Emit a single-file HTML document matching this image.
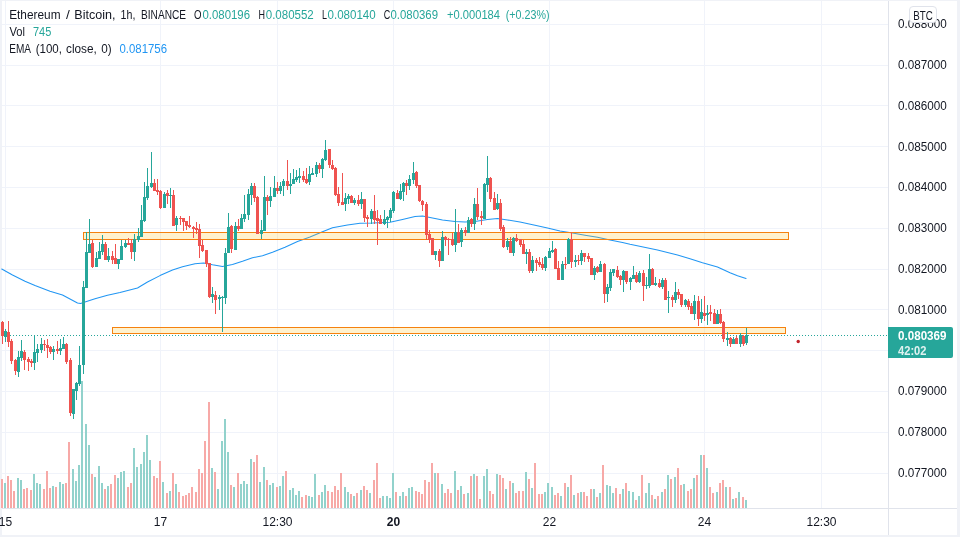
<!DOCTYPE html>
<html lang="en"><head><meta charset="utf-8"><title>ETHBTC chart</title>
<style>html,body{margin:0;padding:0;background:#fff;overflow:hidden}svg{display:block;will-change:transform}text{font-family:"Liberation Sans",Arial,sans-serif;font-size:12px;fill:#131722}.g{fill:#26a69a}.r{fill:#ef5350}.vg{fill:#92d2cc}.vr{fill:#f7a9a7}.gr{fill:#f0f3fa}.ax{fill:#e0e3eb}</style></head><body>
<svg width="960" height="537" viewBox="0 0 960 537">
<rect width="960" height="537" fill="#fff"/>
<rect x="0" y="0" width="2" height="537" fill="#f0f2f7" shape-rendering="crispEdges"/>
<g class="gr" shape-rendering="crispEdges">
<rect x="2" y="24" width="886" height="1"/>
<rect x="2" y="65" width="886" height="1"/>
<rect x="2" y="105" width="886" height="1"/>
<rect x="2" y="146" width="886" height="1"/>
<rect x="2" y="187" width="886" height="1"/>
<rect x="2" y="228" width="886" height="1"/>
<rect x="2" y="269" width="886" height="1"/>
<rect x="2" y="309" width="886" height="1"/>
<rect x="2" y="350" width="886" height="1"/>
<rect x="2" y="391" width="886" height="1"/>
<rect x="2" y="432" width="886" height="1"/>
<rect x="2" y="473" width="886" height="1"/>
<rect x="5" y="1" width="1" height="507"/>
<rect x="160" y="1" width="1" height="507"/>
<rect x="277" y="1" width="1" height="507"/>
<rect x="393" y="1" width="1" height="507"/>
<rect x="549" y="1" width="1" height="507"/>
<rect x="704" y="1" width="1" height="507"/>
<rect x="821" y="1" width="1" height="507"/>
</g>
<g shape-rendering="crispEdges">
<rect class="vr" x="1" y="479" width="2" height="29"/>
<rect class="vg" x="4" y="483" width="2" height="25"/>
<rect class="vr" x="7" y="476" width="2" height="32"/>
<rect class="vr" x="10" y="480" width="2" height="28"/>
<rect class="vr" x="13" y="491" width="2" height="17"/>
<rect class="vg" x="17" y="478" width="2" height="30"/>
<rect class="vg" x="20" y="480" width="2" height="28"/>
<rect class="vr" x="23" y="489" width="2" height="19"/>
<rect class="vr" x="26" y="488" width="2" height="20"/>
<rect class="vr" x="30" y="490" width="2" height="18"/>
<rect class="vg" x="33" y="474" width="2" height="34"/>
<rect class="vg" x="36" y="483" width="2" height="25"/>
<rect class="vg" x="39" y="484" width="2" height="24"/>
<rect class="vr" x="43" y="489" width="2" height="19"/>
<rect class="vr" x="46" y="471" width="2" height="37"/>
<rect class="vr" x="49" y="488" width="2" height="20"/>
<rect class="vg" x="52" y="486" width="2" height="22"/>
<rect class="vr" x="55" y="487" width="2" height="21"/>
<rect class="vg" x="59" y="482" width="2" height="26"/>
<rect class="vg" x="62" y="484" width="2" height="24"/>
<rect class="vr" x="65" y="483" width="2" height="25"/>
<rect class="vr" x="68" y="442" width="2" height="66"/>
<rect class="vg" x="72" y="469" width="2" height="39"/>
<rect class="vg" x="75" y="481" width="2" height="27"/>
<rect class="vg" x="78" y="465" width="2" height="43"/>
<rect class="vg" x="81" y="381" width="2" height="127"/>
<rect class="vg" x="85" y="424" width="2" height="84"/>
<rect class="vg" x="88" y="445" width="2" height="63"/>
<rect class="vr" x="91" y="474" width="2" height="34"/>
<rect class="vg" x="94" y="477" width="2" height="31"/>
<rect class="vg" x="98" y="466" width="2" height="42"/>
<rect class="vg" x="101" y="483" width="2" height="25"/>
<rect class="vr" x="104" y="489" width="2" height="19"/>
<rect class="vg" x="107" y="486" width="2" height="22"/>
<rect class="vr" x="110" y="484" width="2" height="24"/>
<rect class="vr" x="114" y="475" width="2" height="33"/>
<rect class="vg" x="117" y="478" width="2" height="30"/>
<rect class="vg" x="120" y="472" width="2" height="36"/>
<rect class="vg" x="123" y="471" width="2" height="37"/>
<rect class="vr" x="127" y="487" width="2" height="21"/>
<rect class="vr" x="130" y="483" width="2" height="25"/>
<rect class="vg" x="133" y="448" width="2" height="60"/>
<rect class="vg" x="136" y="467" width="2" height="41"/>
<rect class="vg" x="140" y="464" width="2" height="44"/>
<rect class="vg" x="143" y="452" width="2" height="56"/>
<rect class="vg" x="146" y="435" width="2" height="73"/>
<rect class="vg" x="149" y="460" width="2" height="48"/>
<rect class="vr" x="153" y="476" width="2" height="32"/>
<rect class="vr" x="156" y="478" width="2" height="30"/>
<rect class="vr" x="159" y="461" width="2" height="47"/>
<rect class="vg" x="162" y="482" width="2" height="26"/>
<rect class="vr" x="166" y="493" width="2" height="15"/>
<rect class="vg" x="169" y="491" width="2" height="17"/>
<rect class="vr" x="172" y="473" width="2" height="35"/>
<rect class="vg" x="175" y="484" width="2" height="24"/>
<rect class="vr" x="178" y="492" width="2" height="16"/>
<rect class="vr" x="182" y="496" width="2" height="12"/>
<rect class="vr" x="185" y="495" width="2" height="13"/>
<rect class="vr" x="188" y="493" width="2" height="15"/>
<rect class="vr" x="191" y="487" width="2" height="21"/>
<rect class="vr" x="195" y="492" width="2" height="16"/>
<rect class="vr" x="198" y="469" width="2" height="39"/>
<rect class="vr" x="201" y="473" width="2" height="35"/>
<rect class="vr" x="204" y="441" width="2" height="67"/>
<rect class="vr" x="208" y="402" width="2" height="106"/>
<rect class="vg" x="211" y="468" width="2" height="40"/>
<rect class="vr" x="214" y="472" width="2" height="36"/>
<rect class="vg" x="217" y="489" width="2" height="19"/>
<rect class="vg" x="221" y="441" width="2" height="67"/>
<rect class="vg" x="224" y="419" width="2" height="89"/>
<rect class="vg" x="227" y="452" width="2" height="56"/>
<rect class="vr" x="230" y="485" width="2" height="23"/>
<rect class="vg" x="233" y="487" width="2" height="21"/>
<rect class="vr" x="237" y="473" width="2" height="35"/>
<rect class="vg" x="240" y="484" width="2" height="24"/>
<rect class="vg" x="243" y="481" width="2" height="27"/>
<rect class="vg" x="246" y="484" width="2" height="24"/>
<rect class="vg" x="250" y="459" width="2" height="49"/>
<rect class="vr" x="253" y="462" width="2" height="46"/>
<rect class="vr" x="256" y="455" width="2" height="53"/>
<rect class="vg" x="259" y="482" width="2" height="26"/>
<rect class="vg" x="263" y="467" width="2" height="41"/>
<rect class="vr" x="266" y="480" width="2" height="28"/>
<rect class="vg" x="269" y="485" width="2" height="23"/>
<rect class="vg" x="272" y="483" width="2" height="25"/>
<rect class="vr" x="276" y="487" width="2" height="21"/>
<rect class="vg" x="279" y="486" width="2" height="22"/>
<rect class="vg" x="282" y="476" width="2" height="32"/>
<rect class="vr" x="285" y="471" width="2" height="37"/>
<rect class="vg" x="289" y="490" width="2" height="18"/>
<rect class="vg" x="292" y="488" width="2" height="20"/>
<rect class="vg" x="295" y="495" width="2" height="13"/>
<rect class="vg" x="298" y="491" width="2" height="17"/>
<rect class="vr" x="301" y="497" width="2" height="11"/>
<rect class="vr" x="305" y="495" width="2" height="13"/>
<rect class="vg" x="308" y="496" width="2" height="12"/>
<rect class="vg" x="311" y="497" width="2" height="11"/>
<rect class="vg" x="314" y="474" width="2" height="34"/>
<rect class="vr" x="318" y="495" width="2" height="13"/>
<rect class="vg" x="321" y="492" width="2" height="16"/>
<rect class="vg" x="324" y="485" width="2" height="23"/>
<rect class="vr" x="327" y="491" width="2" height="17"/>
<rect class="vr" x="331" y="492" width="2" height="16"/>
<rect class="vr" x="334" y="486" width="2" height="22"/>
<rect class="vr" x="337" y="490" width="2" height="18"/>
<rect class="vr" x="340" y="473" width="2" height="35"/>
<rect class="vg" x="344" y="487" width="2" height="21"/>
<rect class="vg" x="347" y="492" width="2" height="16"/>
<rect class="vr" x="350" y="494" width="2" height="14"/>
<rect class="vg" x="353" y="496" width="2" height="12"/>
<rect class="vr" x="356" y="493" width="2" height="15"/>
<rect class="vg" x="360" y="490" width="2" height="18"/>
<rect class="vr" x="363" y="486" width="2" height="22"/>
<rect class="vr" x="366" y="490" width="2" height="18"/>
<rect class="vg" x="369" y="493" width="2" height="15"/>
<rect class="vr" x="373" y="480" width="2" height="28"/>
<rect class="vr" x="376" y="463" width="2" height="45"/>
<rect class="vr" x="379" y="498" width="2" height="10"/>
<rect class="vg" x="382" y="496" width="2" height="12"/>
<rect class="vg" x="386" y="496" width="2" height="12"/>
<rect class="vg" x="389" y="498" width="2" height="10"/>
<rect class="vg" x="392" y="473" width="2" height="35"/>
<rect class="vr" x="395" y="492" width="2" height="16"/>
<rect class="vg" x="399" y="496" width="2" height="12"/>
<rect class="vg" x="402" y="492" width="2" height="16"/>
<rect class="vr" x="405" y="496" width="2" height="12"/>
<rect class="vg" x="408" y="488" width="2" height="20"/>
<rect class="vg" x="411" y="487" width="2" height="21"/>
<rect class="vr" x="415" y="491" width="2" height="17"/>
<rect class="vr" x="418" y="492" width="2" height="16"/>
<rect class="vr" x="421" y="494" width="2" height="14"/>
<rect class="vr" x="424" y="480" width="2" height="28"/>
<rect class="vr" x="428" y="482" width="2" height="26"/>
<rect class="vr" x="431" y="463" width="2" height="45"/>
<rect class="vg" x="434" y="473" width="2" height="35"/>
<rect class="vr" x="437" y="473" width="2" height="35"/>
<rect class="vg" x="441" y="484" width="2" height="24"/>
<rect class="vr" x="444" y="493" width="2" height="15"/>
<rect class="vr" x="447" y="489" width="2" height="19"/>
<rect class="vr" x="450" y="493" width="2" height="15"/>
<rect class="vg" x="454" y="471" width="2" height="37"/>
<rect class="vr" x="457" y="490" width="2" height="18"/>
<rect class="vg" x="460" y="486" width="2" height="22"/>
<rect class="vr" x="463" y="494" width="2" height="14"/>
<rect class="vg" x="467" y="493" width="2" height="15"/>
<rect class="vr" x="470" y="476" width="2" height="32"/>
<rect class="vg" x="473" y="474" width="2" height="34"/>
<rect class="vr" x="476" y="476" width="2" height="32"/>
<rect class="vr" x="479" y="499" width="2" height="9"/>
<rect class="vg" x="483" y="476" width="2" height="32"/>
<rect class="vg" x="486" y="469" width="2" height="39"/>
<rect class="vr" x="489" y="491" width="2" height="17"/>
<rect class="vr" x="492" y="494" width="2" height="14"/>
<rect class="vg" x="496" y="474" width="2" height="34"/>
<rect class="vr" x="499" y="475" width="2" height="33"/>
<rect class="vr" x="502" y="478" width="2" height="30"/>
<rect class="vg" x="505" y="489" width="2" height="19"/>
<rect class="vr" x="509" y="481" width="2" height="27"/>
<rect class="vg" x="512" y="483" width="2" height="25"/>
<rect class="vr" x="515" y="493" width="2" height="15"/>
<rect class="vr" x="518" y="491" width="2" height="17"/>
<rect class="vr" x="522" y="491" width="2" height="17"/>
<rect class="vg" x="525" y="472" width="2" height="36"/>
<rect class="vr" x="528" y="479" width="2" height="29"/>
<rect class="vg" x="531" y="488" width="2" height="20"/>
<rect class="vr" x="534" y="463" width="2" height="45"/>
<rect class="vr" x="538" y="494" width="2" height="14"/>
<rect class="vr" x="541" y="494" width="2" height="14"/>
<rect class="vg" x="544" y="492" width="2" height="16"/>
<rect class="vg" x="547" y="483" width="2" height="25"/>
<rect class="vg" x="551" y="487" width="2" height="21"/>
<rect class="vr" x="554" y="495" width="2" height="13"/>
<rect class="vr" x="557" y="493" width="2" height="15"/>
<rect class="vg" x="560" y="496" width="2" height="12"/>
<rect class="vr" x="564" y="483" width="2" height="25"/>
<rect class="vg" x="567" y="487" width="2" height="21"/>
<rect class="vr" x="570" y="475" width="2" height="33"/>
<rect class="vg" x="573" y="495" width="2" height="13"/>
<rect class="vr" x="577" y="493" width="2" height="15"/>
<rect class="vg" x="580" y="492" width="2" height="16"/>
<rect class="vr" x="583" y="492" width="2" height="16"/>
<rect class="vr" x="586" y="496" width="2" height="12"/>
<rect class="vr" x="590" y="489" width="2" height="19"/>
<rect class="vg" x="593" y="489" width="2" height="19"/>
<rect class="vr" x="596" y="497" width="2" height="11"/>
<rect class="vg" x="599" y="493" width="2" height="15"/>
<rect class="vr" x="602" y="465" width="2" height="43"/>
<rect class="vg" x="606" y="485" width="2" height="23"/>
<rect class="vg" x="609" y="486" width="2" height="22"/>
<rect class="vg" x="612" y="493" width="2" height="15"/>
<rect class="vr" x="615" y="488" width="2" height="20"/>
<rect class="vr" x="619" y="494" width="2" height="14"/>
<rect class="vg" x="622" y="489" width="2" height="19"/>
<rect class="vr" x="625" y="483" width="2" height="25"/>
<rect class="vg" x="628" y="491" width="2" height="17"/>
<rect class="vg" x="632" y="492" width="2" height="16"/>
<rect class="vr" x="635" y="500" width="2" height="8"/>
<rect class="vg" x="638" y="496" width="2" height="12"/>
<rect class="vr" x="641" y="475" width="2" height="33"/>
<rect class="vg" x="645" y="493" width="2" height="15"/>
<rect class="vg" x="648" y="483" width="2" height="25"/>
<rect class="vr" x="651" y="495" width="2" height="13"/>
<rect class="vg" x="654" y="499" width="2" height="9"/>
<rect class="vr" x="657" y="496" width="2" height="12"/>
<rect class="vg" x="661" y="492" width="2" height="16"/>
<rect class="vr" x="664" y="489" width="2" height="19"/>
<rect class="vg" x="667" y="475" width="2" height="33"/>
<rect class="vr" x="670" y="479" width="2" height="29"/>
<rect class="vg" x="674" y="477" width="2" height="31"/>
<rect class="vr" x="677" y="468" width="2" height="40"/>
<rect class="vr" x="680" y="485" width="2" height="23"/>
<rect class="vg" x="683" y="484" width="2" height="24"/>
<rect class="vr" x="687" y="491" width="2" height="17"/>
<rect class="vr" x="690" y="489" width="2" height="19"/>
<rect class="vg" x="693" y="478" width="2" height="30"/>
<rect class="vr" x="696" y="475" width="2" height="33"/>
<rect class="vg" x="700" y="455" width="2" height="53"/>
<rect class="vr" x="703" y="455" width="2" height="53"/>
<rect class="vg" x="706" y="468" width="2" height="40"/>
<rect class="vr" x="709" y="487" width="2" height="21"/>
<rect class="vr" x="712" y="493" width="2" height="15"/>
<rect class="vg" x="716" y="492" width="2" height="16"/>
<rect class="vr" x="719" y="483" width="2" height="25"/>
<rect class="vr" x="722" y="480" width="2" height="28"/>
<rect class="vg" x="725" y="487" width="2" height="21"/>
<rect class="vr" x="729" y="487" width="2" height="21"/>
<rect class="vg" x="732" y="499" width="2" height="9"/>
<rect class="vr" x="735" y="498" width="2" height="10"/>
<rect class="vg" x="738" y="492" width="2" height="16"/>
<rect class="vr" x="742" y="497" width="2" height="11"/>
<rect class="vg" x="745" y="500" width="2" height="8"/>
</g>
<polyline points="1.75,269.00 12.50,275.00 25.00,281.25 35.00,285.60 50.00,291.25 62.50,295.00 70.00,299.00 77.50,303.00 80.60,303.50 85.00,302.00 95.00,298.75 107.50,295.25 120.00,292.50 137.50,288.00 147.50,282.00 160.00,275.60 172.50,270.00 182.50,266.75 195.00,263.75 203.75,263.00 212.50,264.75 222.50,266.50 232.50,264.50 242.50,261.25 252.50,257.75 262.50,255.75 272.50,252.25 285.00,247.25 297.50,241.50 310.00,237.00 322.50,231.75 332.50,227.75 347.50,225.00 360.00,223.25 372.50,223.00 390.00,222.25 402.50,219.50 415.00,216.50 422.50,216.00 432.50,218.00 442.50,220.00 455.00,221.50 465.00,222.00 475.00,221.50 487.50,219.50 497.50,218.50 507.50,220.00 520.00,222.00 535.00,225.25 547.50,228.00 560.00,231.00 572.50,233.00 585.00,235.25 597.50,237.25 610.00,240.00 622.50,242.50 630.00,244.25 657.50,250.00 677.50,255.00 690.00,258.75 702.50,262.75 717.50,267.00 730.00,272.75 737.50,275.75 746.00,278.50" fill="none" stroke="#2196f3" stroke-width="1.05" stroke-linejoin="round" stroke-linecap="round"/>
<g shape-rendering="crispEdges">
<rect x="83.5" y="232.5" width="705" height="7" fill="#ffc21f" fill-opacity="0.22" stroke="#f5820f" stroke-width="1"/>
<rect x="112.5" y="327.5" width="673" height="6" fill="#ffc21f" fill-opacity="0.22" stroke="#f5820f" stroke-width="1"/>
</g>
<g class="g" shape-rendering="crispEdges">
<rect x="1" y="335" width="1" height="1"/>
<rect x="4" y="335" width="1" height="1"/>
<rect x="7" y="335" width="1" height="1"/>
<rect x="10" y="335" width="1" height="1"/>
<rect x="13" y="335" width="1" height="1"/>
<rect x="16" y="335" width="1" height="1"/>
<rect x="19" y="335" width="1" height="1"/>
<rect x="22" y="335" width="1" height="1"/>
<rect x="25" y="335" width="1" height="1"/>
<rect x="28" y="335" width="1" height="1"/>
<rect x="31" y="335" width="1" height="1"/>
<rect x="34" y="335" width="1" height="1"/>
<rect x="37" y="335" width="1" height="1"/>
<rect x="40" y="335" width="1" height="1"/>
<rect x="43" y="335" width="1" height="1"/>
<rect x="46" y="335" width="1" height="1"/>
<rect x="49" y="335" width="1" height="1"/>
<rect x="52" y="335" width="1" height="1"/>
<rect x="55" y="335" width="1" height="1"/>
<rect x="58" y="335" width="1" height="1"/>
<rect x="61" y="335" width="1" height="1"/>
<rect x="64" y="335" width="1" height="1"/>
<rect x="67" y="335" width="1" height="1"/>
<rect x="70" y="335" width="1" height="1"/>
<rect x="73" y="335" width="1" height="1"/>
<rect x="76" y="335" width="1" height="1"/>
<rect x="79" y="335" width="1" height="1"/>
<rect x="82" y="335" width="1" height="1"/>
<rect x="85" y="335" width="1" height="1"/>
<rect x="88" y="335" width="1" height="1"/>
<rect x="91" y="335" width="1" height="1"/>
<rect x="94" y="335" width="1" height="1"/>
<rect x="97" y="335" width="1" height="1"/>
<rect x="100" y="335" width="1" height="1"/>
<rect x="103" y="335" width="1" height="1"/>
<rect x="106" y="335" width="1" height="1"/>
<rect x="109" y="335" width="1" height="1"/>
<rect x="112" y="335" width="1" height="1"/>
<rect x="115" y="335" width="1" height="1"/>
<rect x="118" y="335" width="1" height="1"/>
<rect x="121" y="335" width="1" height="1"/>
<rect x="124" y="335" width="1" height="1"/>
<rect x="127" y="335" width="1" height="1"/>
<rect x="130" y="335" width="1" height="1"/>
<rect x="133" y="335" width="1" height="1"/>
<rect x="136" y="335" width="1" height="1"/>
<rect x="139" y="335" width="1" height="1"/>
<rect x="142" y="335" width="1" height="1"/>
<rect x="145" y="335" width="1" height="1"/>
<rect x="148" y="335" width="1" height="1"/>
<rect x="151" y="335" width="1" height="1"/>
<rect x="154" y="335" width="1" height="1"/>
<rect x="157" y="335" width="1" height="1"/>
<rect x="160" y="335" width="1" height="1"/>
<rect x="163" y="335" width="1" height="1"/>
<rect x="166" y="335" width="1" height="1"/>
<rect x="169" y="335" width="1" height="1"/>
<rect x="172" y="335" width="1" height="1"/>
<rect x="175" y="335" width="1" height="1"/>
<rect x="178" y="335" width="1" height="1"/>
<rect x="181" y="335" width="1" height="1"/>
<rect x="184" y="335" width="1" height="1"/>
<rect x="187" y="335" width="1" height="1"/>
<rect x="190" y="335" width="1" height="1"/>
<rect x="193" y="335" width="1" height="1"/>
<rect x="196" y="335" width="1" height="1"/>
<rect x="199" y="335" width="1" height="1"/>
<rect x="202" y="335" width="1" height="1"/>
<rect x="205" y="335" width="1" height="1"/>
<rect x="208" y="335" width="1" height="1"/>
<rect x="211" y="335" width="1" height="1"/>
<rect x="214" y="335" width="1" height="1"/>
<rect x="217" y="335" width="1" height="1"/>
<rect x="220" y="335" width="1" height="1"/>
<rect x="223" y="335" width="1" height="1"/>
<rect x="226" y="335" width="1" height="1"/>
<rect x="229" y="335" width="1" height="1"/>
<rect x="232" y="335" width="1" height="1"/>
<rect x="235" y="335" width="1" height="1"/>
<rect x="238" y="335" width="1" height="1"/>
<rect x="241" y="335" width="1" height="1"/>
<rect x="244" y="335" width="1" height="1"/>
<rect x="247" y="335" width="1" height="1"/>
<rect x="250" y="335" width="1" height="1"/>
<rect x="253" y="335" width="1" height="1"/>
<rect x="256" y="335" width="1" height="1"/>
<rect x="259" y="335" width="1" height="1"/>
<rect x="262" y="335" width="1" height="1"/>
<rect x="265" y="335" width="1" height="1"/>
<rect x="268" y="335" width="1" height="1"/>
<rect x="271" y="335" width="1" height="1"/>
<rect x="274" y="335" width="1" height="1"/>
<rect x="277" y="335" width="1" height="1"/>
<rect x="280" y="335" width="1" height="1"/>
<rect x="283" y="335" width="1" height="1"/>
<rect x="286" y="335" width="1" height="1"/>
<rect x="289" y="335" width="1" height="1"/>
<rect x="292" y="335" width="1" height="1"/>
<rect x="295" y="335" width="1" height="1"/>
<rect x="298" y="335" width="1" height="1"/>
<rect x="301" y="335" width="1" height="1"/>
<rect x="304" y="335" width="1" height="1"/>
<rect x="307" y="335" width="1" height="1"/>
<rect x="310" y="335" width="1" height="1"/>
<rect x="313" y="335" width="1" height="1"/>
<rect x="316" y="335" width="1" height="1"/>
<rect x="319" y="335" width="1" height="1"/>
<rect x="322" y="335" width="1" height="1"/>
<rect x="325" y="335" width="1" height="1"/>
<rect x="328" y="335" width="1" height="1"/>
<rect x="331" y="335" width="1" height="1"/>
<rect x="334" y="335" width="1" height="1"/>
<rect x="337" y="335" width="1" height="1"/>
<rect x="340" y="335" width="1" height="1"/>
<rect x="343" y="335" width="1" height="1"/>
<rect x="346" y="335" width="1" height="1"/>
<rect x="349" y="335" width="1" height="1"/>
<rect x="352" y="335" width="1" height="1"/>
<rect x="355" y="335" width="1" height="1"/>
<rect x="358" y="335" width="1" height="1"/>
<rect x="361" y="335" width="1" height="1"/>
<rect x="364" y="335" width="1" height="1"/>
<rect x="367" y="335" width="1" height="1"/>
<rect x="370" y="335" width="1" height="1"/>
<rect x="373" y="335" width="1" height="1"/>
<rect x="376" y="335" width="1" height="1"/>
<rect x="379" y="335" width="1" height="1"/>
<rect x="382" y="335" width="1" height="1"/>
<rect x="385" y="335" width="1" height="1"/>
<rect x="388" y="335" width="1" height="1"/>
<rect x="391" y="335" width="1" height="1"/>
<rect x="394" y="335" width="1" height="1"/>
<rect x="397" y="335" width="1" height="1"/>
<rect x="400" y="335" width="1" height="1"/>
<rect x="403" y="335" width="1" height="1"/>
<rect x="406" y="335" width="1" height="1"/>
<rect x="409" y="335" width="1" height="1"/>
<rect x="412" y="335" width="1" height="1"/>
<rect x="415" y="335" width="1" height="1"/>
<rect x="418" y="335" width="1" height="1"/>
<rect x="421" y="335" width="1" height="1"/>
<rect x="424" y="335" width="1" height="1"/>
<rect x="427" y="335" width="1" height="1"/>
<rect x="430" y="335" width="1" height="1"/>
<rect x="433" y="335" width="1" height="1"/>
<rect x="436" y="335" width="1" height="1"/>
<rect x="439" y="335" width="1" height="1"/>
<rect x="442" y="335" width="1" height="1"/>
<rect x="445" y="335" width="1" height="1"/>
<rect x="448" y="335" width="1" height="1"/>
<rect x="451" y="335" width="1" height="1"/>
<rect x="454" y="335" width="1" height="1"/>
<rect x="457" y="335" width="1" height="1"/>
<rect x="460" y="335" width="1" height="1"/>
<rect x="463" y="335" width="1" height="1"/>
<rect x="466" y="335" width="1" height="1"/>
<rect x="469" y="335" width="1" height="1"/>
<rect x="472" y="335" width="1" height="1"/>
<rect x="475" y="335" width="1" height="1"/>
<rect x="478" y="335" width="1" height="1"/>
<rect x="481" y="335" width="1" height="1"/>
<rect x="484" y="335" width="1" height="1"/>
<rect x="487" y="335" width="1" height="1"/>
<rect x="490" y="335" width="1" height="1"/>
<rect x="493" y="335" width="1" height="1"/>
<rect x="496" y="335" width="1" height="1"/>
<rect x="499" y="335" width="1" height="1"/>
<rect x="502" y="335" width="1" height="1"/>
<rect x="505" y="335" width="1" height="1"/>
<rect x="508" y="335" width="1" height="1"/>
<rect x="511" y="335" width="1" height="1"/>
<rect x="514" y="335" width="1" height="1"/>
<rect x="517" y="335" width="1" height="1"/>
<rect x="520" y="335" width="1" height="1"/>
<rect x="523" y="335" width="1" height="1"/>
<rect x="526" y="335" width="1" height="1"/>
<rect x="529" y="335" width="1" height="1"/>
<rect x="532" y="335" width="1" height="1"/>
<rect x="535" y="335" width="1" height="1"/>
<rect x="538" y="335" width="1" height="1"/>
<rect x="541" y="335" width="1" height="1"/>
<rect x="544" y="335" width="1" height="1"/>
<rect x="547" y="335" width="1" height="1"/>
<rect x="550" y="335" width="1" height="1"/>
<rect x="553" y="335" width="1" height="1"/>
<rect x="556" y="335" width="1" height="1"/>
<rect x="559" y="335" width="1" height="1"/>
<rect x="562" y="335" width="1" height="1"/>
<rect x="565" y="335" width="1" height="1"/>
<rect x="568" y="335" width="1" height="1"/>
<rect x="571" y="335" width="1" height="1"/>
<rect x="574" y="335" width="1" height="1"/>
<rect x="577" y="335" width="1" height="1"/>
<rect x="580" y="335" width="1" height="1"/>
<rect x="583" y="335" width="1" height="1"/>
<rect x="586" y="335" width="1" height="1"/>
<rect x="589" y="335" width="1" height="1"/>
<rect x="592" y="335" width="1" height="1"/>
<rect x="595" y="335" width="1" height="1"/>
<rect x="598" y="335" width="1" height="1"/>
<rect x="601" y="335" width="1" height="1"/>
<rect x="604" y="335" width="1" height="1"/>
<rect x="607" y="335" width="1" height="1"/>
<rect x="610" y="335" width="1" height="1"/>
<rect x="613" y="335" width="1" height="1"/>
<rect x="616" y="335" width="1" height="1"/>
<rect x="619" y="335" width="1" height="1"/>
<rect x="622" y="335" width="1" height="1"/>
<rect x="625" y="335" width="1" height="1"/>
<rect x="628" y="335" width="1" height="1"/>
<rect x="631" y="335" width="1" height="1"/>
<rect x="634" y="335" width="1" height="1"/>
<rect x="637" y="335" width="1" height="1"/>
<rect x="640" y="335" width="1" height="1"/>
<rect x="643" y="335" width="1" height="1"/>
<rect x="646" y="335" width="1" height="1"/>
<rect x="649" y="335" width="1" height="1"/>
<rect x="652" y="335" width="1" height="1"/>
<rect x="655" y="335" width="1" height="1"/>
<rect x="658" y="335" width="1" height="1"/>
<rect x="661" y="335" width="1" height="1"/>
<rect x="664" y="335" width="1" height="1"/>
<rect x="667" y="335" width="1" height="1"/>
<rect x="670" y="335" width="1" height="1"/>
<rect x="673" y="335" width="1" height="1"/>
<rect x="676" y="335" width="1" height="1"/>
<rect x="679" y="335" width="1" height="1"/>
<rect x="682" y="335" width="1" height="1"/>
<rect x="685" y="335" width="1" height="1"/>
<rect x="688" y="335" width="1" height="1"/>
<rect x="691" y="335" width="1" height="1"/>
<rect x="694" y="335" width="1" height="1"/>
<rect x="697" y="335" width="1" height="1"/>
<rect x="700" y="335" width="1" height="1"/>
<rect x="703" y="335" width="1" height="1"/>
<rect x="706" y="335" width="1" height="1"/>
<rect x="709" y="335" width="1" height="1"/>
<rect x="712" y="335" width="1" height="1"/>
<rect x="715" y="335" width="1" height="1"/>
<rect x="718" y="335" width="1" height="1"/>
<rect x="721" y="335" width="1" height="1"/>
<rect x="724" y="335" width="1" height="1"/>
<rect x="727" y="335" width="1" height="1"/>
<rect x="730" y="335" width="1" height="1"/>
<rect x="733" y="335" width="1" height="1"/>
<rect x="736" y="335" width="1" height="1"/>
<rect x="739" y="335" width="1" height="1"/>
<rect x="742" y="335" width="1" height="1"/>
<rect x="745" y="335" width="1" height="1"/>
<rect x="748" y="335" width="1" height="1"/>
<rect x="751" y="335" width="1" height="1"/>
<rect x="754" y="335" width="1" height="1"/>
<rect x="757" y="335" width="1" height="1"/>
<rect x="760" y="335" width="1" height="1"/>
<rect x="763" y="335" width="1" height="1"/>
<rect x="766" y="335" width="1" height="1"/>
<rect x="769" y="335" width="1" height="1"/>
<rect x="772" y="335" width="1" height="1"/>
<rect x="775" y="335" width="1" height="1"/>
<rect x="778" y="335" width="1" height="1"/>
<rect x="781" y="335" width="1" height="1"/>
<rect x="784" y="335" width="1" height="1"/>
<rect x="787" y="335" width="1" height="1"/>
<rect x="790" y="335" width="1" height="1"/>
<rect x="793" y="335" width="1" height="1"/>
<rect x="796" y="335" width="1" height="1"/>
<rect x="799" y="335" width="1" height="1"/>
<rect x="802" y="335" width="1" height="1"/>
<rect x="805" y="335" width="1" height="1"/>
<rect x="808" y="335" width="1" height="1"/>
<rect x="811" y="335" width="1" height="1"/>
<rect x="814" y="335" width="1" height="1"/>
<rect x="817" y="335" width="1" height="1"/>
<rect x="820" y="335" width="1" height="1"/>
<rect x="823" y="335" width="1" height="1"/>
<rect x="826" y="335" width="1" height="1"/>
<rect x="829" y="335" width="1" height="1"/>
<rect x="832" y="335" width="1" height="1"/>
<rect x="835" y="335" width="1" height="1"/>
<rect x="838" y="335" width="1" height="1"/>
<rect x="841" y="335" width="1" height="1"/>
<rect x="844" y="335" width="1" height="1"/>
<rect x="847" y="335" width="1" height="1"/>
<rect x="850" y="335" width="1" height="1"/>
<rect x="853" y="335" width="1" height="1"/>
<rect x="856" y="335" width="1" height="1"/>
<rect x="859" y="335" width="1" height="1"/>
<rect x="862" y="335" width="1" height="1"/>
<rect x="865" y="335" width="1" height="1"/>
<rect x="868" y="335" width="1" height="1"/>
<rect x="871" y="335" width="1" height="1"/>
<rect x="874" y="335" width="1" height="1"/>
<rect x="877" y="335" width="1" height="1"/>
<rect x="880" y="335" width="1" height="1"/>
<rect x="883" y="335" width="1" height="1"/>
<rect x="886" y="335" width="1" height="1"/>
</g>
<g shape-rendering="crispEdges">
<rect class="r" x="2" y="321" width="1" height="23"/>
<rect class="r" x="1" y="322" width="3" height="14"/>
<rect class="g" x="5" y="329" width="1" height="13"/>
<rect class="g" x="4" y="331" width="3" height="6"/>
<rect class="r" x="8" y="321" width="1" height="26"/>
<rect class="r" x="7" y="332" width="3" height="10"/>
<rect class="r" x="11" y="339" width="1" height="25"/>
<rect class="r" x="10" y="341" width="3" height="20"/>
<rect class="r" x="15" y="359" width="1" height="16"/>
<rect class="r" x="14" y="360" width="3" height="11"/>
<rect class="g" x="18" y="351" width="1" height="26"/>
<rect class="g" x="17" y="357" width="3" height="15"/>
<rect class="g" x="21" y="340" width="1" height="21"/>
<rect class="g" x="20" y="351" width="3" height="7"/>
<rect class="r" x="24" y="350" width="1" height="20"/>
<rect class="r" x="23" y="352" width="3" height="8"/>
<rect class="r" x="28" y="357" width="1" height="14"/>
<rect class="r" x="27" y="359" width="3" height="3"/>
<rect class="r" x="31" y="359" width="1" height="8"/>
<rect class="r" x="30" y="361" width="3" height="2"/>
<rect class="g" x="34" y="335" width="1" height="35"/>
<rect class="g" x="33" y="352" width="3" height="11"/>
<rect class="g" x="37" y="344" width="1" height="18"/>
<rect class="g" x="36" y="349" width="3" height="4"/>
<rect class="g" x="41" y="338" width="1" height="15"/>
<rect class="g" x="40" y="344" width="3" height="6"/>
<rect class="r" x="44" y="340" width="1" height="11"/>
<rect class="r" x="43" y="344" width="3" height="1"/>
<rect class="r" x="47" y="339" width="1" height="19"/>
<rect class="r" x="46" y="345" width="3" height="3"/>
<rect class="r" x="50" y="346" width="1" height="8"/>
<rect class="r" x="49" y="347" width="3" height="5"/>
<rect class="g" x="53" y="346" width="1" height="14"/>
<rect class="g" x="52" y="349" width="3" height="3"/>
<rect class="r" x="57" y="341" width="1" height="13"/>
<rect class="r" x="56" y="349" width="3" height="2"/>
<rect class="g" x="60" y="339" width="1" height="16"/>
<rect class="g" x="59" y="348" width="3" height="3"/>
<rect class="g" x="63" y="337" width="1" height="12"/>
<rect class="g" x="62" y="344" width="3" height="5"/>
<rect class="r" x="66" y="343" width="1" height="21"/>
<rect class="r" x="65" y="344" width="3" height="18"/>
<rect class="r" x="70" y="358" width="1" height="58"/>
<rect class="r" x="69" y="360" width="3" height="53"/>
<rect class="g" x="73" y="389" width="1" height="30"/>
<rect class="g" x="72" y="389" width="3" height="25"/>
<rect class="g" x="76" y="382" width="1" height="18"/>
<rect class="g" x="75" y="383" width="3" height="8"/>
<rect class="g" x="79" y="346" width="1" height="40"/>
<rect class="g" x="78" y="365" width="3" height="19"/>
<rect class="g" x="83" y="281" width="1" height="93"/>
<rect class="g" x="82" y="287" width="3" height="78"/>
<rect class="g" x="86" y="232" width="1" height="56"/>
<rect class="g" x="85" y="252" width="3" height="36"/>
<rect class="g" x="89" y="219" width="1" height="34"/>
<rect class="g" x="88" y="244" width="3" height="9"/>
<rect class="r" x="92" y="240" width="1" height="28"/>
<rect class="r" x="91" y="243" width="3" height="24"/>
<rect class="g" x="96" y="252" width="1" height="15"/>
<rect class="g" x="95" y="258" width="3" height="9"/>
<rect class="g" x="99" y="242" width="1" height="17"/>
<rect class="g" x="98" y="251" width="3" height="8"/>
<rect class="g" x="102" y="235" width="1" height="20"/>
<rect class="g" x="101" y="244" width="3" height="8"/>
<rect class="r" x="105" y="242" width="1" height="18"/>
<rect class="r" x="104" y="244" width="3" height="16"/>
<rect class="g" x="108" y="248" width="1" height="14"/>
<rect class="g" x="107" y="256" width="3" height="4"/>
<rect class="r" x="112" y="251" width="1" height="13"/>
<rect class="r" x="111" y="256" width="3" height="4"/>
<rect class="r" x="115" y="244" width="1" height="20"/>
<rect class="r" x="114" y="258" width="3" height="6"/>
<rect class="g" x="118" y="259" width="1" height="10"/>
<rect class="g" x="117" y="259" width="3" height="5"/>
<rect class="g" x="121" y="240" width="1" height="20"/>
<rect class="g" x="120" y="246" width="3" height="14"/>
<rect class="g" x="125" y="240" width="1" height="8"/>
<rect class="g" x="124" y="243" width="3" height="4"/>
<rect class="r" x="128" y="238" width="1" height="7"/>
<rect class="r" x="127" y="243" width="3" height="2"/>
<rect class="r" x="131" y="239" width="1" height="20"/>
<rect class="r" x="130" y="243" width="3" height="9"/>
<rect class="g" x="134" y="234" width="1" height="27"/>
<rect class="g" x="133" y="239" width="3" height="13"/>
<rect class="g" x="138" y="228" width="1" height="14"/>
<rect class="g" x="137" y="236" width="3" height="4"/>
<rect class="g" x="141" y="205" width="1" height="32"/>
<rect class="g" x="140" y="220" width="3" height="17"/>
<rect class="g" x="144" y="182" width="1" height="40"/>
<rect class="g" x="143" y="197" width="3" height="24"/>
<rect class="g" x="147" y="168" width="1" height="32"/>
<rect class="g" x="146" y="186" width="3" height="12"/>
<rect class="g" x="151" y="152" width="1" height="36"/>
<rect class="g" x="150" y="183" width="3" height="4"/>
<rect class="r" x="154" y="179" width="1" height="12"/>
<rect class="r" x="153" y="183" width="3" height="8"/>
<rect class="r" x="157" y="179" width="1" height="16"/>
<rect class="r" x="156" y="190" width="3" height="2"/>
<rect class="r" x="160" y="190" width="1" height="19"/>
<rect class="r" x="159" y="191" width="3" height="17"/>
<rect class="g" x="164" y="192" width="1" height="16"/>
<rect class="g" x="163" y="194" width="3" height="14"/>
<rect class="r" x="167" y="190" width="1" height="14"/>
<rect class="r" x="166" y="193" width="3" height="3"/>
<rect class="g" x="170" y="188" width="1" height="20"/>
<rect class="g" x="169" y="195" width="3" height="1"/>
<rect class="r" x="173" y="190" width="1" height="36"/>
<rect class="r" x="172" y="195" width="3" height="31"/>
<rect class="g" x="176" y="216" width="1" height="15"/>
<rect class="g" x="175" y="218" width="3" height="7"/>
<rect class="r" x="180" y="216" width="1" height="9"/>
<rect class="r" x="179" y="218" width="3" height="1"/>
<rect class="r" x="183" y="218" width="1" height="13"/>
<rect class="r" x="182" y="218" width="3" height="4"/>
<rect class="r" x="186" y="221" width="1" height="9"/>
<rect class="r" x="185" y="221" width="3" height="5"/>
<rect class="r" x="189" y="216" width="1" height="12"/>
<rect class="r" x="188" y="225" width="3" height="2"/>
<rect class="r" x="193" y="226" width="1" height="12"/>
<rect class="r" x="192" y="227" width="3" height="2"/>
<rect class="r" x="196" y="222" width="1" height="12"/>
<rect class="r" x="195" y="228" width="3" height="2"/>
<rect class="r" x="199" y="224" width="1" height="34"/>
<rect class="r" x="198" y="229" width="3" height="17"/>
<rect class="r" x="202" y="240" width="1" height="12"/>
<rect class="r" x="201" y="245" width="3" height="6"/>
<rect class="r" x="206" y="250" width="1" height="17"/>
<rect class="r" x="205" y="250" width="3" height="14"/>
<rect class="r" x="209" y="263" width="1" height="35"/>
<rect class="r" x="208" y="263" width="3" height="34"/>
<rect class="g" x="212" y="287" width="1" height="16"/>
<rect class="g" x="211" y="294" width="3" height="3"/>
<rect class="r" x="215" y="291" width="1" height="23"/>
<rect class="r" x="214" y="295" width="3" height="5"/>
<rect class="g" x="219" y="295" width="1" height="15"/>
<rect class="g" x="218" y="297" width="3" height="2"/>
<rect class="g" x="222" y="296" width="1" height="36"/>
<rect class="g" x="221" y="297" width="3" height="1"/>
<rect class="g" x="225" y="248" width="1" height="56"/>
<rect class="g" x="224" y="253" width="3" height="45"/>
<rect class="g" x="228" y="213" width="1" height="40"/>
<rect class="g" x="227" y="227" width="3" height="26"/>
<rect class="r" x="231" y="225" width="1" height="28"/>
<rect class="r" x="230" y="226" width="3" height="23"/>
<rect class="g" x="235" y="222" width="1" height="28"/>
<rect class="g" x="234" y="226" width="3" height="24"/>
<rect class="r" x="238" y="219" width="1" height="12"/>
<rect class="r" x="237" y="226" width="3" height="3"/>
<rect class="g" x="241" y="214" width="1" height="15"/>
<rect class="g" x="240" y="218" width="3" height="11"/>
<rect class="g" x="244" y="195" width="1" height="27"/>
<rect class="g" x="243" y="214" width="3" height="5"/>
<rect class="g" x="248" y="189" width="1" height="31"/>
<rect class="g" x="247" y="194" width="3" height="21"/>
<rect class="g" x="251" y="183" width="1" height="22"/>
<rect class="g" x="250" y="186" width="3" height="9"/>
<rect class="r" x="254" y="183" width="1" height="19"/>
<rect class="r" x="253" y="186" width="3" height="12"/>
<rect class="r" x="257" y="196" width="1" height="38"/>
<rect class="r" x="256" y="197" width="3" height="37"/>
<rect class="g" x="261" y="220" width="1" height="19"/>
<rect class="g" x="260" y="230" width="3" height="4"/>
<rect class="g" x="264" y="176" width="1" height="55"/>
<rect class="g" x="263" y="197" width="3" height="34"/>
<rect class="r" x="267" y="195" width="1" height="20"/>
<rect class="r" x="266" y="197" width="3" height="4"/>
<rect class="g" x="270" y="187" width="1" height="20"/>
<rect class="g" x="269" y="196" width="3" height="5"/>
<rect class="g" x="274" y="176" width="1" height="21"/>
<rect class="g" x="273" y="188" width="3" height="9"/>
<rect class="r" x="277" y="182" width="1" height="12"/>
<rect class="r" x="276" y="188" width="3" height="3"/>
<rect class="g" x="280" y="182" width="1" height="12"/>
<rect class="g" x="279" y="186" width="3" height="5"/>
<rect class="g" x="283" y="179" width="1" height="17"/>
<rect class="g" x="282" y="181" width="3" height="5"/>
<rect class="r" x="287" y="160" width="1" height="30"/>
<rect class="r" x="286" y="181" width="3" height="5"/>
<rect class="g" x="290" y="173" width="1" height="21"/>
<rect class="g" x="289" y="184" width="3" height="2"/>
<rect class="g" x="293" y="169" width="1" height="15"/>
<rect class="g" x="292" y="179" width="3" height="5"/>
<rect class="g" x="296" y="170" width="1" height="12"/>
<rect class="g" x="295" y="177" width="3" height="3"/>
<rect class="g" x="299" y="168" width="1" height="15"/>
<rect class="g" x="298" y="176" width="3" height="2"/>
<rect class="r" x="303" y="171" width="1" height="11"/>
<rect class="r" x="302" y="176" width="3" height="4"/>
<rect class="r" x="306" y="168" width="1" height="16"/>
<rect class="r" x="305" y="179" width="3" height="4"/>
<rect class="g" x="309" y="166" width="1" height="19"/>
<rect class="g" x="308" y="174" width="3" height="8"/>
<rect class="g" x="312" y="168" width="1" height="7"/>
<rect class="g" x="311" y="173" width="3" height="2"/>
<rect class="g" x="316" y="162" width="1" height="15"/>
<rect class="g" x="315" y="165" width="3" height="9"/>
<rect class="r" x="319" y="163" width="1" height="10"/>
<rect class="r" x="318" y="165" width="3" height="4"/>
<rect class="g" x="322" y="158" width="1" height="20"/>
<rect class="g" x="321" y="159" width="3" height="10"/>
<rect class="g" x="325" y="140" width="1" height="21"/>
<rect class="g" x="324" y="150" width="3" height="10"/>
<rect class="r" x="329" y="149" width="1" height="19"/>
<rect class="r" x="328" y="149" width="3" height="16"/>
<rect class="r" x="332" y="160" width="1" height="10"/>
<rect class="r" x="331" y="165" width="3" height="4"/>
<rect class="r" x="335" y="167" width="1" height="29"/>
<rect class="r" x="334" y="168" width="3" height="27"/>
<rect class="r" x="338" y="187" width="1" height="19"/>
<rect class="r" x="337" y="194" width="3" height="9"/>
<rect class="r" x="342" y="173" width="1" height="32"/>
<rect class="r" x="341" y="202" width="3" height="3"/>
<rect class="g" x="345" y="193" width="1" height="18"/>
<rect class="g" x="344" y="198" width="3" height="6"/>
<rect class="g" x="348" y="194" width="1" height="10"/>
<rect class="g" x="347" y="196" width="3" height="3"/>
<rect class="r" x="351" y="195" width="1" height="8"/>
<rect class="r" x="350" y="196" width="3" height="7"/>
<rect class="g" x="354" y="198" width="1" height="7"/>
<rect class="g" x="353" y="200" width="3" height="3"/>
<rect class="r" x="358" y="195" width="1" height="11"/>
<rect class="r" x="357" y="200" width="3" height="4"/>
<rect class="g" x="361" y="192" width="1" height="17"/>
<rect class="g" x="360" y="199" width="3" height="5"/>
<rect class="r" x="364" y="199" width="1" height="23"/>
<rect class="r" x="363" y="199" width="3" height="19"/>
<rect class="r" x="367" y="215" width="1" height="12"/>
<rect class="r" x="366" y="217" width="3" height="2"/>
<rect class="g" x="371" y="209" width="1" height="15"/>
<rect class="g" x="370" y="211" width="3" height="8"/>
<rect class="r" x="374" y="195" width="1" height="29"/>
<rect class="r" x="373" y="211" width="3" height="9"/>
<rect class="r" x="377" y="210" width="1" height="35"/>
<rect class="r" x="376" y="218" width="3" height="3"/>
<rect class="r" x="380" y="215" width="1" height="9"/>
<rect class="r" x="379" y="219" width="3" height="5"/>
<rect class="g" x="384" y="210" width="1" height="15"/>
<rect class="g" x="383" y="219" width="3" height="5"/>
<rect class="g" x="387" y="216" width="1" height="12"/>
<rect class="g" x="386" y="217" width="3" height="3"/>
<rect class="g" x="390" y="208" width="1" height="14"/>
<rect class="g" x="389" y="210" width="3" height="8"/>
<rect class="g" x="393" y="191" width="1" height="22"/>
<rect class="g" x="392" y="192" width="3" height="19"/>
<rect class="r" x="397" y="190" width="1" height="9"/>
<rect class="r" x="396" y="193" width="3" height="6"/>
<rect class="g" x="400" y="184" width="1" height="16"/>
<rect class="g" x="399" y="191" width="3" height="8"/>
<rect class="g" x="403" y="182" width="1" height="19"/>
<rect class="g" x="402" y="183" width="3" height="9"/>
<rect class="r" x="406" y="180" width="1" height="15"/>
<rect class="r" x="405" y="183" width="3" height="3"/>
<rect class="g" x="409" y="175" width="1" height="15"/>
<rect class="g" x="408" y="179" width="3" height="7"/>
<rect class="g" x="413" y="162" width="1" height="22"/>
<rect class="g" x="412" y="173" width="3" height="7"/>
<rect class="r" x="416" y="171" width="1" height="17"/>
<rect class="r" x="415" y="172" width="3" height="14"/>
<rect class="r" x="419" y="185" width="1" height="17"/>
<rect class="r" x="418" y="185" width="3" height="16"/>
<rect class="r" x="422" y="200" width="1" height="11"/>
<rect class="r" x="421" y="201" width="3" height="4"/>
<rect class="r" x="426" y="202" width="1" height="38"/>
<rect class="r" x="425" y="204" width="3" height="31"/>
<rect class="r" x="429" y="230" width="1" height="13"/>
<rect class="r" x="428" y="234" width="3" height="6"/>
<rect class="r" x="432" y="238" width="1" height="17"/>
<rect class="r" x="431" y="238" width="3" height="17"/>
<rect class="g" x="435" y="251" width="1" height="9"/>
<rect class="g" x="434" y="251" width="3" height="4"/>
<rect class="r" x="439" y="249" width="1" height="18"/>
<rect class="r" x="438" y="251" width="3" height="10"/>
<rect class="g" x="442" y="231" width="1" height="30"/>
<rect class="g" x="441" y="237" width="3" height="24"/>
<rect class="r" x="445" y="236" width="1" height="10"/>
<rect class="r" x="444" y="237" width="3" height="3"/>
<rect class="r" x="448" y="238" width="1" height="17"/>
<rect class="r" x="447" y="239" width="3" height="1"/>
<rect class="r" x="452" y="233" width="1" height="13"/>
<rect class="r" x="451" y="239" width="3" height="6"/>
<rect class="g" x="455" y="209" width="1" height="43"/>
<rect class="g" x="454" y="232" width="3" height="13"/>
<rect class="r" x="458" y="224" width="1" height="19"/>
<rect class="r" x="457" y="232" width="3" height="11"/>
<rect class="g" x="461" y="228" width="1" height="19"/>
<rect class="g" x="460" y="230" width="3" height="12"/>
<rect class="r" x="465" y="227" width="1" height="9"/>
<rect class="r" x="464" y="230" width="3" height="3"/>
<rect class="g" x="468" y="217" width="1" height="16"/>
<rect class="g" x="467" y="220" width="3" height="13"/>
<rect class="r" x="471" y="218" width="1" height="9"/>
<rect class="r" x="470" y="219" width="3" height="5"/>
<rect class="g" x="474" y="198" width="1" height="32"/>
<rect class="g" x="473" y="204" width="3" height="20"/>
<rect class="r" x="477" y="188" width="1" height="32"/>
<rect class="r" x="476" y="204" width="3" height="13"/>
<rect class="r" x="481" y="211" width="1" height="14"/>
<rect class="r" x="480" y="216" width="3" height="2"/>
<rect class="g" x="484" y="183" width="1" height="36"/>
<rect class="g" x="483" y="184" width="3" height="35"/>
<rect class="g" x="487" y="156" width="1" height="36"/>
<rect class="g" x="486" y="178" width="3" height="7"/>
<rect class="r" x="490" y="177" width="1" height="25"/>
<rect class="r" x="489" y="178" width="3" height="21"/>
<rect class="r" x="494" y="192" width="1" height="18"/>
<rect class="r" x="493" y="198" width="3" height="12"/>
<rect class="g" x="497" y="194" width="1" height="16"/>
<rect class="g" x="496" y="203" width="3" height="6"/>
<rect class="r" x="500" y="199" width="1" height="32"/>
<rect class="r" x="499" y="203" width="3" height="26"/>
<rect class="r" x="503" y="225" width="1" height="23"/>
<rect class="r" x="502" y="227" width="3" height="20"/>
<rect class="g" x="507" y="238" width="1" height="12"/>
<rect class="g" x="506" y="241" width="3" height="6"/>
<rect class="r" x="510" y="237" width="1" height="16"/>
<rect class="r" x="509" y="241" width="3" height="12"/>
<rect class="g" x="513" y="237" width="1" height="19"/>
<rect class="g" x="512" y="238" width="3" height="15"/>
<rect class="r" x="516" y="234" width="1" height="8"/>
<rect class="r" x="515" y="238" width="3" height="3"/>
<rect class="r" x="520" y="239" width="1" height="8"/>
<rect class="r" x="519" y="239" width="3" height="6"/>
<rect class="r" x="523" y="240" width="1" height="14"/>
<rect class="r" x="522" y="244" width="3" height="10"/>
<rect class="g" x="526" y="249" width="1" height="15"/>
<rect class="g" x="525" y="252" width="3" height="2"/>
<rect class="r" x="529" y="249" width="1" height="24"/>
<rect class="r" x="528" y="252" width="3" height="19"/>
<rect class="g" x="532" y="256" width="1" height="17"/>
<rect class="g" x="531" y="260" width="3" height="11"/>
<rect class="r" x="536" y="258" width="1" height="13"/>
<rect class="r" x="535" y="260" width="3" height="3"/>
<rect class="r" x="539" y="257" width="1" height="10"/>
<rect class="r" x="538" y="262" width="3" height="3"/>
<rect class="r" x="542" y="258" width="1" height="12"/>
<rect class="r" x="541" y="264" width="3" height="4"/>
<rect class="g" x="545" y="256" width="1" height="15"/>
<rect class="g" x="544" y="257" width="3" height="11"/>
<rect class="g" x="549" y="248" width="1" height="10"/>
<rect class="g" x="548" y="251" width="3" height="7"/>
<rect class="g" x="552" y="241" width="1" height="12"/>
<rect class="g" x="551" y="250" width="3" height="2"/>
<rect class="r" x="555" y="248" width="1" height="21"/>
<rect class="r" x="554" y="249" width="3" height="20"/>
<rect class="r" x="558" y="261" width="1" height="19"/>
<rect class="r" x="557" y="268" width="3" height="12"/>
<rect class="g" x="562" y="261" width="1" height="19"/>
<rect class="g" x="561" y="264" width="3" height="16"/>
<rect class="r" x="565" y="257" width="1" height="12"/>
<rect class="r" x="564" y="264" width="3" height="1"/>
<rect class="g" x="568" y="238" width="1" height="26"/>
<rect class="g" x="567" y="239" width="3" height="25"/>
<rect class="r" x="571" y="232" width="1" height="36"/>
<rect class="r" x="570" y="239" width="3" height="23"/>
<rect class="g" x="575" y="255" width="1" height="12"/>
<rect class="g" x="574" y="260" width="3" height="2"/>
<rect class="r" x="578" y="255" width="1" height="10"/>
<rect class="r" x="577" y="260" width="3" height="1"/>
<rect class="g" x="581" y="250" width="1" height="15"/>
<rect class="g" x="580" y="253" width="3" height="8"/>
<rect class="r" x="584" y="253" width="1" height="9"/>
<rect class="r" x="583" y="253" width="3" height="4"/>
<rect class="r" x="588" y="253" width="1" height="9"/>
<rect class="r" x="587" y="256" width="3" height="3"/>
<rect class="r" x="591" y="258" width="1" height="17"/>
<rect class="r" x="590" y="258" width="3" height="17"/>
<rect class="g" x="594" y="266" width="1" height="14"/>
<rect class="g" x="593" y="268" width="3" height="7"/>
<rect class="r" x="597" y="266" width="1" height="7"/>
<rect class="r" x="596" y="267" width="3" height="5"/>
<rect class="g" x="600" y="261" width="1" height="11"/>
<rect class="g" x="599" y="264" width="3" height="8"/>
<rect class="r" x="604" y="263" width="1" height="40"/>
<rect class="r" x="603" y="264" width="3" height="30"/>
<rect class="g" x="607" y="284" width="1" height="18"/>
<rect class="g" x="606" y="287" width="3" height="7"/>
<rect class="g" x="610" y="269" width="1" height="22"/>
<rect class="g" x="609" y="272" width="3" height="16"/>
<rect class="g" x="613" y="269" width="1" height="7"/>
<rect class="g" x="612" y="269" width="3" height="4"/>
<rect class="r" x="617" y="266" width="1" height="12"/>
<rect class="r" x="616" y="270" width="3" height="7"/>
<rect class="r" x="620" y="275" width="1" height="10"/>
<rect class="r" x="619" y="276" width="3" height="4"/>
<rect class="g" x="623" y="270" width="1" height="22"/>
<rect class="g" x="622" y="271" width="3" height="9"/>
<rect class="r" x="626" y="271" width="1" height="13"/>
<rect class="r" x="625" y="271" width="3" height="11"/>
<rect class="g" x="630" y="277" width="1" height="13"/>
<rect class="g" x="629" y="278" width="3" height="4"/>
<rect class="g" x="633" y="266" width="1" height="13"/>
<rect class="g" x="632" y="275" width="3" height="4"/>
<rect class="r" x="636" y="272" width="1" height="11"/>
<rect class="r" x="635" y="275" width="3" height="7"/>
<rect class="g" x="639" y="271" width="1" height="12"/>
<rect class="g" x="638" y="273" width="3" height="9"/>
<rect class="r" x="643" y="270" width="1" height="31"/>
<rect class="r" x="642" y="273" width="3" height="13"/>
<rect class="g" x="646" y="277" width="1" height="12"/>
<rect class="g" x="645" y="285" width="3" height="1"/>
<rect class="g" x="649" y="254" width="1" height="34"/>
<rect class="g" x="648" y="269" width="3" height="17"/>
<rect class="r" x="652" y="268" width="1" height="17"/>
<rect class="r" x="651" y="269" width="3" height="16"/>
<rect class="g" x="655" y="277" width="1" height="9"/>
<rect class="g" x="654" y="283" width="3" height="2"/>
<rect class="r" x="659" y="279" width="1" height="9"/>
<rect class="r" x="658" y="283" width="3" height="4"/>
<rect class="g" x="662" y="278" width="1" height="11"/>
<rect class="g" x="661" y="280" width="3" height="7"/>
<rect class="r" x="665" y="278" width="1" height="22"/>
<rect class="r" x="664" y="280" width="3" height="20"/>
<rect class="g" x="668" y="291" width="1" height="22"/>
<rect class="g" x="667" y="297" width="3" height="1"/>
<rect class="r" x="672" y="295" width="1" height="12"/>
<rect class="r" x="671" y="297" width="3" height="3"/>
<rect class="g" x="675" y="282" width="1" height="21"/>
<rect class="g" x="674" y="292" width="3" height="8"/>
<rect class="r" x="678" y="289" width="1" height="10"/>
<rect class="r" x="677" y="292" width="3" height="3"/>
<rect class="r" x="681" y="294" width="1" height="13"/>
<rect class="r" x="680" y="294" width="3" height="11"/>
<rect class="g" x="685" y="299" width="1" height="8"/>
<rect class="g" x="684" y="300" width="3" height="5"/>
<rect class="r" x="688" y="299" width="1" height="11"/>
<rect class="r" x="687" y="301" width="3" height="6"/>
<rect class="r" x="691" y="303" width="1" height="11"/>
<rect class="r" x="690" y="306" width="3" height="8"/>
<rect class="g" x="694" y="295" width="1" height="25"/>
<rect class="g" x="693" y="301" width="3" height="13"/>
<rect class="r" x="698" y="296" width="1" height="30"/>
<rect class="r" x="697" y="301" width="3" height="18"/>
<rect class="g" x="701" y="299" width="1" height="24"/>
<rect class="g" x="700" y="312" width="3" height="7"/>
<rect class="r" x="704" y="296" width="1" height="25"/>
<rect class="r" x="703" y="313" width="3" height="3"/>
<rect class="g" x="707" y="305" width="1" height="20"/>
<rect class="g" x="706" y="313" width="3" height="2"/>
<rect class="r" x="710" y="305" width="1" height="16"/>
<rect class="r" x="709" y="312" width="3" height="2"/>
<rect class="r" x="714" y="309" width="1" height="15"/>
<rect class="r" x="713" y="313" width="3" height="11"/>
<rect class="g" x="717" y="310" width="1" height="14"/>
<rect class="g" x="716" y="314" width="3" height="10"/>
<rect class="r" x="720" y="309" width="1" height="15"/>
<rect class="r" x="719" y="314" width="3" height="9"/>
<rect class="r" x="723" y="321" width="1" height="21"/>
<rect class="r" x="722" y="322" width="3" height="17"/>
<rect class="g" x="727" y="332" width="1" height="14"/>
<rect class="g" x="726" y="338" width="3" height="2"/>
<rect class="r" x="730" y="337" width="1" height="10"/>
<rect class="r" x="729" y="338" width="3" height="6"/>
<rect class="g" x="733" y="337" width="1" height="7"/>
<rect class="g" x="732" y="339" width="3" height="5"/>
<rect class="r" x="736" y="336" width="1" height="8"/>
<rect class="r" x="735" y="338" width="3" height="6"/>
<rect class="g" x="740" y="333" width="1" height="14"/>
<rect class="g" x="739" y="335" width="3" height="9"/>
<rect class="r" x="743" y="335" width="1" height="11"/>
<rect class="r" x="742" y="336" width="3" height="8"/>
<rect class="g" x="746" y="328" width="1" height="17"/>
<rect class="g" x="745" y="335" width="3" height="8"/>
</g>
<circle cx="798.2" cy="341.5" r="1.7" fill="#c2242b"/>
<g shape-rendering="crispEdges">
<rect class="ax" x="888" y="1" width="1" height="534"/>
<rect class="ax" x="2" y="508" width="955" height="1"/>
<rect x="0" y="0" width="960" height="1" fill="#f0f2f7"/>
<rect x="957" y="0" width="3" height="537" fill="#f0f2f7"/>
<rect x="0" y="535" width="960" height="2" fill="#f0f2f7"/>
</g>
<text x="898" y="28.25" textLength="48.9" lengthAdjust="spacingAndGlyphs">0.088000</text>
<text x="898" y="69.02" textLength="48.9" lengthAdjust="spacingAndGlyphs">0.087000</text>
<text x="898" y="109.79" textLength="48.9" lengthAdjust="spacingAndGlyphs">0.086000</text>
<text x="898" y="150.56" textLength="48.9" lengthAdjust="spacingAndGlyphs">0.085000</text>
<text x="898" y="191.33" textLength="48.9" lengthAdjust="spacingAndGlyphs">0.084000</text>
<text x="898" y="232.10" textLength="48.9" lengthAdjust="spacingAndGlyphs">0.083000</text>
<text x="898" y="272.87" textLength="48.9" lengthAdjust="spacingAndGlyphs">0.082000</text>
<text x="898" y="313.64" textLength="48.9" lengthAdjust="spacingAndGlyphs">0.081000</text>
<text x="898" y="395.18" textLength="48.9" lengthAdjust="spacingAndGlyphs">0.079000</text>
<text x="898" y="435.95" textLength="48.9" lengthAdjust="spacingAndGlyphs">0.078000</text>
<text x="898" y="476.72" textLength="48.9" lengthAdjust="spacingAndGlyphs">0.077000</text>
<rect x="909.5" y="6.5" width="27" height="16" rx="3.5" fill="#fff" stroke="#e0e3eb"/>
<text x="913.3" y="20.0" textLength="19.5" lengthAdjust="spacingAndGlyphs">BTC</text>
<path d="M888 327h63a2 2 0 0 1 2 2v27a2 2 0 0 1-2 2h-63z" fill="#26a69a"/>
<text x="898" y="340.3" textLength="48.5" lengthAdjust="spacingAndGlyphs" style="fill:#fff;font-weight:bold">0.080369</text>
<text x="898" y="354.7" textLength="28.5" lengthAdjust="spacingAndGlyphs" style="fill:#fff;fill-opacity:.85;font-weight:bold">42:02</text>
<text x="5.5" y="525.8" text-anchor="middle">15</text>
<text x="160.5" y="525.8" text-anchor="middle">17</text>
<text x="277.5" y="525.8" text-anchor="middle">12:30</text>
<text x="393.5" y="525.8" text-anchor="middle" style="font-weight:bold">20</text>
<text x="549.5" y="525.8" text-anchor="middle">22</text>
<text x="704.5" y="525.8" text-anchor="middle">24</text>
<text x="821.5" y="525.8" text-anchor="middle">12:30</text>
<text x="9.20" y="19.2" textLength="51.30" lengthAdjust="spacingAndGlyphs">Ethereum</text>
<text x="66.00" y="19.2" textLength="3.80" lengthAdjust="spacingAndGlyphs">/</text>
<text x="74.30" y="19.2" textLength="41.20" lengthAdjust="spacingAndGlyphs">Bitcoin,</text>
<text x="120.60" y="19.2" textLength="14.80" lengthAdjust="spacingAndGlyphs">1h,</text>
<text x="141.00" y="19.2" textLength="45.00" lengthAdjust="spacingAndGlyphs">BINANCE</text>
<text x="194.00" y="19.2" textLength="7.50" lengthAdjust="spacingAndGlyphs">O</text>
<text x="202.50" y="19.2" textLength="47.50" lengthAdjust="spacingAndGlyphs" style="fill:#26a69a">0.080196</text>
<text x="258.50" y="19.2" textLength="6.50" lengthAdjust="spacingAndGlyphs">H</text>
<text x="265.75" y="19.2" textLength="48.00" lengthAdjust="spacingAndGlyphs" style="fill:#26a69a">0.080552</text>
<text x="322.00" y="19.2" textLength="5.00" lengthAdjust="spacingAndGlyphs">L</text>
<text x="327.50" y="19.2" textLength="48.25" lengthAdjust="spacingAndGlyphs" style="fill:#26a69a">0.080140</text>
<text x="383.75" y="19.2" textLength="6.50" lengthAdjust="spacingAndGlyphs">C</text>
<text x="390.50" y="19.2" textLength="47.50" lengthAdjust="spacingAndGlyphs" style="fill:#26a69a">0.080369</text>
<text x="447.00" y="19.2" textLength="53.00" lengthAdjust="spacingAndGlyphs" style="fill:#26a69a">+0.000184</text>
<text x="505.75" y="19.2" textLength="43.75" lengthAdjust="spacingAndGlyphs" style="fill:#26a69a">(+0.23%)</text>
<text x="9.50" y="35.9" textLength="15.50" lengthAdjust="spacingAndGlyphs">Vol</text>
<text x="33.00" y="35.9" textLength="18.30" lengthAdjust="spacingAndGlyphs" style="fill:#26a69a">745</text>
<text x="9.20" y="53.1" textLength="21.80" lengthAdjust="spacingAndGlyphs">EMA</text>
<text x="35.70" y="53.1" textLength="26.30" lengthAdjust="spacingAndGlyphs">(100,</text>
<text x="66.00" y="53.1" textLength="30.80" lengthAdjust="spacingAndGlyphs">close,</text>
<text x="101.20" y="53.1" textLength="10.40" lengthAdjust="spacingAndGlyphs">0)</text>
<text x="119.50" y="53.1" textLength="47.50" lengthAdjust="spacingAndGlyphs" style="fill:#2196f3">0.081756</text>
</svg></body></html>
